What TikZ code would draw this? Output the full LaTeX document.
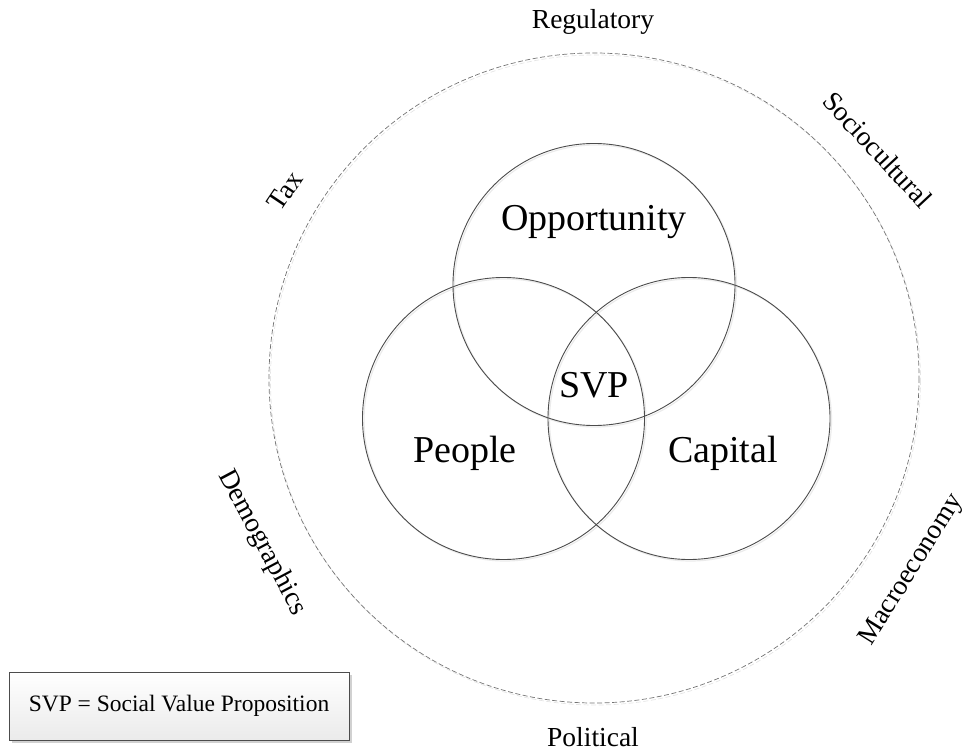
\documentclass[tikz,border=0pt]{standalone}
\usepackage{fontspec}
\setmainfont{Liberation Serif}
\usetikzlibrary{shadows}
\usetikzlibrary{positioning}

\begin{document}
\begin{tikzpicture}[x=1pt,y=-1pt,
		ring/.style={draw=black!70, line width=0.9pt},
		ringshade/.style={draw=black!8, line width=1.2pt},
		env/.style={draw=black!55, line width=0.7pt, dash pattern=on 5pt off 2.5pt},
		outer/.style={font=\fontsize{27.5}{30}\selectfont},
		big/.style={font=\fontsize{38}{40}\selectfont}]
		\useasboundingbox (0,0) rectangle (968,751);
		
		% environment circle
		\draw[black!10, line width=0.7pt, dash pattern=on 5pt off 2.5pt] (595.5,380) circle[radius=325];
		\draw[env] (594,378) circle[radius=325];
		
		% venn circles
		\draw[ringshade] (595.5,286) circle[radius=141];
		\draw[ringshade] (505,420) circle[radius=141];
		\draw[ringshade] (690.5,420) circle[radius=141];
		\draw[ring] (594,284.5) circle[radius=141];
		\draw[ring] (503.5,418.5) circle[radius=141];
		\draw[ring] (689,418.5) circle[radius=141];
		
		\node[big] (opportunity) at (594,222) {Opportunity};
		\node[big] (svp) at (594,385) {SVP};
		\node[big] (people) at (465,453) {People};
		\node[big] (capital) at (723,453) {Capital};
		
		% outside factors
		\node[outer] (regulatory) at (593,22) {Regulatory};
		\node[outer] (political) at (593,737) {Political};
		\node[outer, rotate=56] (tax) at (285,191) {Tax};
		\node[outer, rotate=-47] (sociocultural) at (878,150) {Sociocultural};
		\node[outer, rotate=58] (macro) at (912,570) {Macroeconomy};
		\node[outer, rotate=-62] (demographics) at (262,543) {Demographics};
		
		% legend
		\node[draw=black!70, line width=0.8pt, top color=white, bottom color=black!8,
			drop shadow={shadow xshift=3pt, shadow yshift=-3pt, fill=black!18, opacity=1},
			minimum width=340pt, minimum height=68pt,
			font=\fontsize{23.5}{25}\selectfont] (legend) at (179,706) {SVP = Social Value Proposition};
		
\end{tikzpicture}
\end{document}
